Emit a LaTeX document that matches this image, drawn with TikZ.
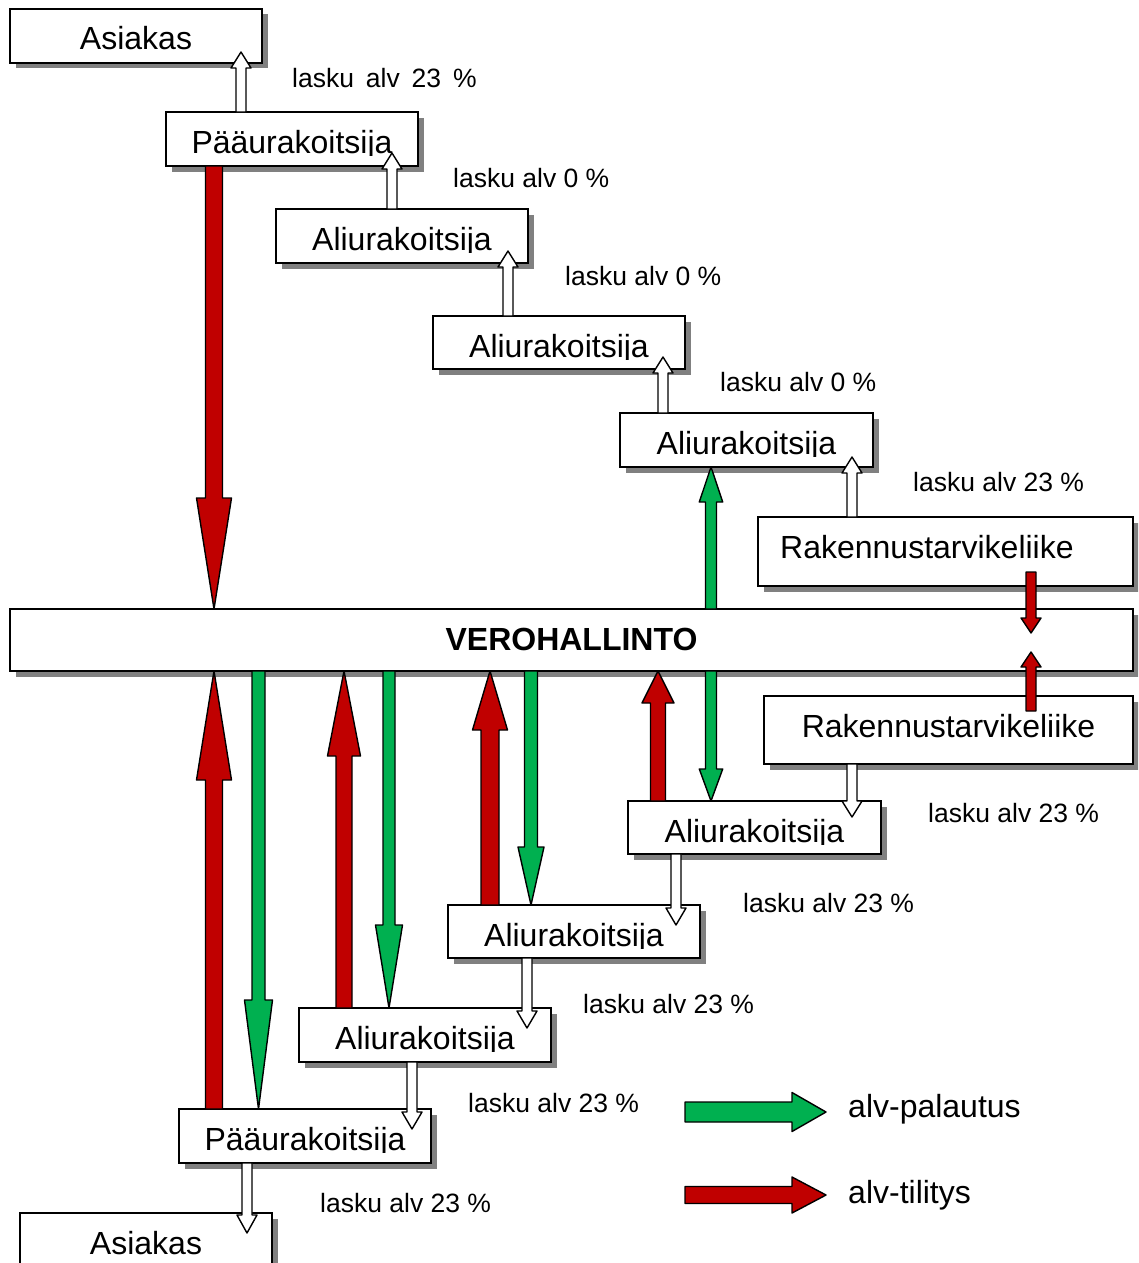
\documentclass[tikz,border=0pt]{standalone}
\usepackage{fontspec}
\setmainfont{Liberation Sans}
\usetikzlibrary{calc,fit,shadows}
\definecolor{vgreen}{RGB}{0,176,80}
\definecolor{vred}{RGB}{192,0,0}
\definecolor{shadowgray}{RGB}{128,128,128}
\newcommand\diagbig{\fontsize{32}{38}\selectfont}
\newcommand\diagsmall{\fontsize{26.5}{32}\selectfont}
\tikzset{
  box/.style={draw=black, line width=1.6pt, fill=white, inner sep=0pt, outer sep=0pt,
    drop shadow={shadow xshift=5.5pt, shadow yshift=-5.5pt, fill=shadowgray, opacity=1}},
  boxtext/.style={font=\diagbig, inner sep=0pt},
  lbl/.style={font=\diagsmall, inner sep=0pt, anchor=base west},
  legendtext/.style={font=\diagbig, inner sep=0pt, anchor=base west},
  hollowarrow/.style={draw=black, fill=white, line width=1.4pt, line join=round},
  redarrow/.style={draw=black, fill=vred, line width=1.4pt, line join=round},
  greenarrow/.style={draw=black, fill=vgreen, line width=1.4pt, line join=round},
}
% #1 name, #2 x1, #3 y1, #4 x2, #5 y2, #6 text x, #7 text options, #8 text
\newcommand\mybox[8]{%
  \node[box, fit={(#2,#3) (#4,#5)}] (#1) {};
  \begin{scope}
    \clip (#2,#3) rectangle (#4,#3+43);
    \node[boxtext, #7] (#1-t) at (#6,#3+41) {#8};
  \end{scope}}
% #1 style, #2 start, #3 tip, #4 shaft half width, #5 head half width, #6 head length
\newcommand\myarrow[6]{%
  \path #2 coordinate (ba-s);
  \path #3 coordinate (ba-t);
  \path ($(ba-t)!#6!(ba-s)$) coordinate (ba-h);
  \draw[#1] ($(ba-s)!#4!90:(ba-t)$) -- ($(ba-h)!#4!90:(ba-t)$) -- ($(ba-h)!#5!90:(ba-t)$)
    -- (ba-t) -- ($(ba-h)!#5!-90:(ba-t)$) -- ($(ba-h)!#4!-90:(ba-t)$)
    -- ($(ba-s)!#4!-90:(ba-t)$) -- cycle;}
\begin{document}
\begin{tikzpicture}[x=1pt, y=-1pt]
\useasboundingbox (0,0) rectangle (1138,1263);
\clip (0,0) rectangle (1138,1263);
% boxes
\mybox{asiakas1}{10}{9}{262}{63}{136}{anchor=base}{Asiakas}
\mybox{paa1}{166}{112}{418}{166}{292}{anchor=base}{Pääurakoitsija}
\mybox{ali1}{276}{209}{528}{263}{402}{anchor=base}{Aliurakoitsija}
\mybox{ali2}{433}{316}{685}{369}{559}{anchor=base}{Aliurakoitsija}
\mybox{ali3}{620}{413}{873}{467}{746.5}{anchor=base}{Aliurakoitsija}
\mybox{rak1}{758}{517}{1133}{586}{780}{anchor=base west}{Rakennustarvikeliike}
\mybox{vero}{10}{609}{1133}{671}{571.5}{anchor=base, font=\diagbig\bfseries}{VEROHALLINTO}
\mybox{rak2}{764}{696}{1133}{764}{948.5}{anchor=base}{Rakennustarvikeliike}
\mybox{ali4}{628}{801}{881}{854}{754.5}{anchor=base}{Aliurakoitsija}
\mybox{ali5}{448}{905}{700}{958}{574}{anchor=base}{Aliurakoitsija}
\mybox{ali6}{299}{1008}{551}{1062}{425}{anchor=base}{Aliurakoitsija}
\mybox{paa2}{179}{1109}{431}{1163}{305}{anchor=base}{Pääurakoitsija}
\mybox{asiakas2}{20}{1213}{272}{1300}{146}{anchor=base}{Asiakas}
% labels
\node[lbl] (l1) at (292,88) {lasku\hspace{0.45em}alv\hspace{0.45em}23\hspace{0.45em}\%};
\node[lbl] (l2) at (453,187) {lasku alv 0 \%};
\node[lbl] (l3) at (565,285.5) {lasku alv 0 \%};
\node[lbl] (l4) at (720,391.5) {lasku alv 0 \%};
\node[lbl] (l5) at (913,491) {lasku alv 23 \%};
\node[lbl] (l6) at (928,822) {lasku alv 23 \%};
\node[lbl] (l7) at (743,912.5) {lasku alv 23 \%};
\node[lbl] (l8) at (583,1013) {lasku alv 23 \%};
\node[lbl] (l9) at (468,1112.5) {lasku alv 23 \%};
\node[lbl] (l10) at (320,1212.5) {lasku alv 23 \%};
% hollow invoice arrows
\myarrow{hollowarrow}{(241,0 |- paa1.north)}{($(241,0 |- asiakas1.south)+(0pt,11pt)$)}{5pt}{10pt}{16pt}
\myarrow{hollowarrow}{(392,0 |- ali1.north)}{($(392,0 |- paa1.south)+(0pt,13pt)$)}{5pt}{10pt}{16pt}
\myarrow{hollowarrow}{(508,0 |- ali2.north)}{($(508,0 |- ali1.south)+(0pt,12pt)$)}{5pt}{10pt}{16pt}
\myarrow{hollowarrow}{(663,0 |- ali3.north)}{($(663,0 |- ali2.south)+(0pt,12pt)$)}{5pt}{10pt}{16pt}
\myarrow{hollowarrow}{(852,0 |- rak1.north)}{($(852,0 |- ali3.south)+(0pt,10pt)$)}{5pt}{10pt}{16pt}
\myarrow{hollowarrow}{(852,0 |- rak2.south)}{($(852,0 |- ali4.north)+(0pt,-16pt)$)}{5pt}{10pt}{16pt}
\myarrow{hollowarrow}{(676,0 |- ali4.south)}{($(676,0 |- ali5.north)+(0pt,-20pt)$)}{5pt}{10pt}{17pt}
\myarrow{hollowarrow}{(527,0 |- ali5.south)}{($(527,0 |- ali6.north)+(0pt,-20pt)$)}{5pt}{10pt}{17pt}
\myarrow{hollowarrow}{(412,0 |- ali6.south)}{($(412,0 |- paa2.north)+(0pt,-20pt)$)}{5pt}{10pt}{17pt}
\myarrow{hollowarrow}{(247,0 |- paa2.south)}{($(247,0 |- asiakas2.north)+(0pt,-20pt)$)}{5pt}{10pt}{18pt}
% red arrows (alv-tilitys)
\myarrow{redarrow}{(214,0 |- paa1.south)}{(214,0 |- vero.north)}{8.5pt}{17.5pt}{111pt}
\myarrow{redarrow}{(214,0 |- paa2.north)}{(214,0 |- vero.south)}{8.5pt}{17.5pt}{109pt}
\myarrow{redarrow}{(344,0 |- ali6.north)}{(344,0 |- vero.south)}{8pt}{16.5pt}{85pt}
\myarrow{redarrow}{(490,0 |- ali5.north)}{(490,0 |- vero.south)}{9pt}{17.5pt}{59pt}
\myarrow{redarrow}{(658,0 |- ali4.north)}{(658,0 |- vero.south)}{7.5pt}{16pt}{32pt}
\myarrow{redarrow}{($(1031,0 |- rak1.south)+(0pt,14pt)$)}{($(1031,0 |- vero.north)+(0pt,-24pt)$)}{5pt}{10pt}{15pt}
\myarrow{redarrow}{($(1031,0 |- rak2.north)+(0pt,-15pt)$)}{($(1031,0 |- vero.south)+(0pt,19pt)$)}{5pt}{10pt}{15pt}
% green arrows (alv-palautus)
\myarrow{greenarrow}{(711,0 |- vero.north)}{(711,0 |- ali3.south)}{5.5pt}{11.7pt}{35pt}
\myarrow{greenarrow}{(258.5,0 |- vero.south)}{(258.5,0 |- paa2.north)}{6.5pt}{14pt}{109pt}
\myarrow{greenarrow}{(389,0 |- vero.south)}{(389,0 |- ali6.north)}{6pt}{13.5pt}{83pt}
\myarrow{greenarrow}{(531,0 |- vero.south)}{(531,0 |- ali5.north)}{6.5pt}{13pt}{58pt}
\myarrow{greenarrow}{(711,0 |- vero.south)}{(711,0 |- ali4.north)}{5.5pt}{11.7pt}{32pt}
% legend
\coordinate (lg-s) at (685,1112);
\coordinate (lg-t) at (826,1112);
\coordinate (lr-s) at (685,1195);
\coordinate (lr-t) at (826,1195);
\myarrow{greenarrow}{(lg-s)}{(lg-t)}{10pt}{19.5pt}{34pt}
\myarrow{redarrow}{(lr-s)}{(lr-t)}{8.5pt}{18pt}{34pt}
\node[legendtext] (lgt) at (848,1117) {alv-palautus};
\node[legendtext] (lrt) at (848,1203) {alv-tilitys};
\end{tikzpicture}
\end{document}
